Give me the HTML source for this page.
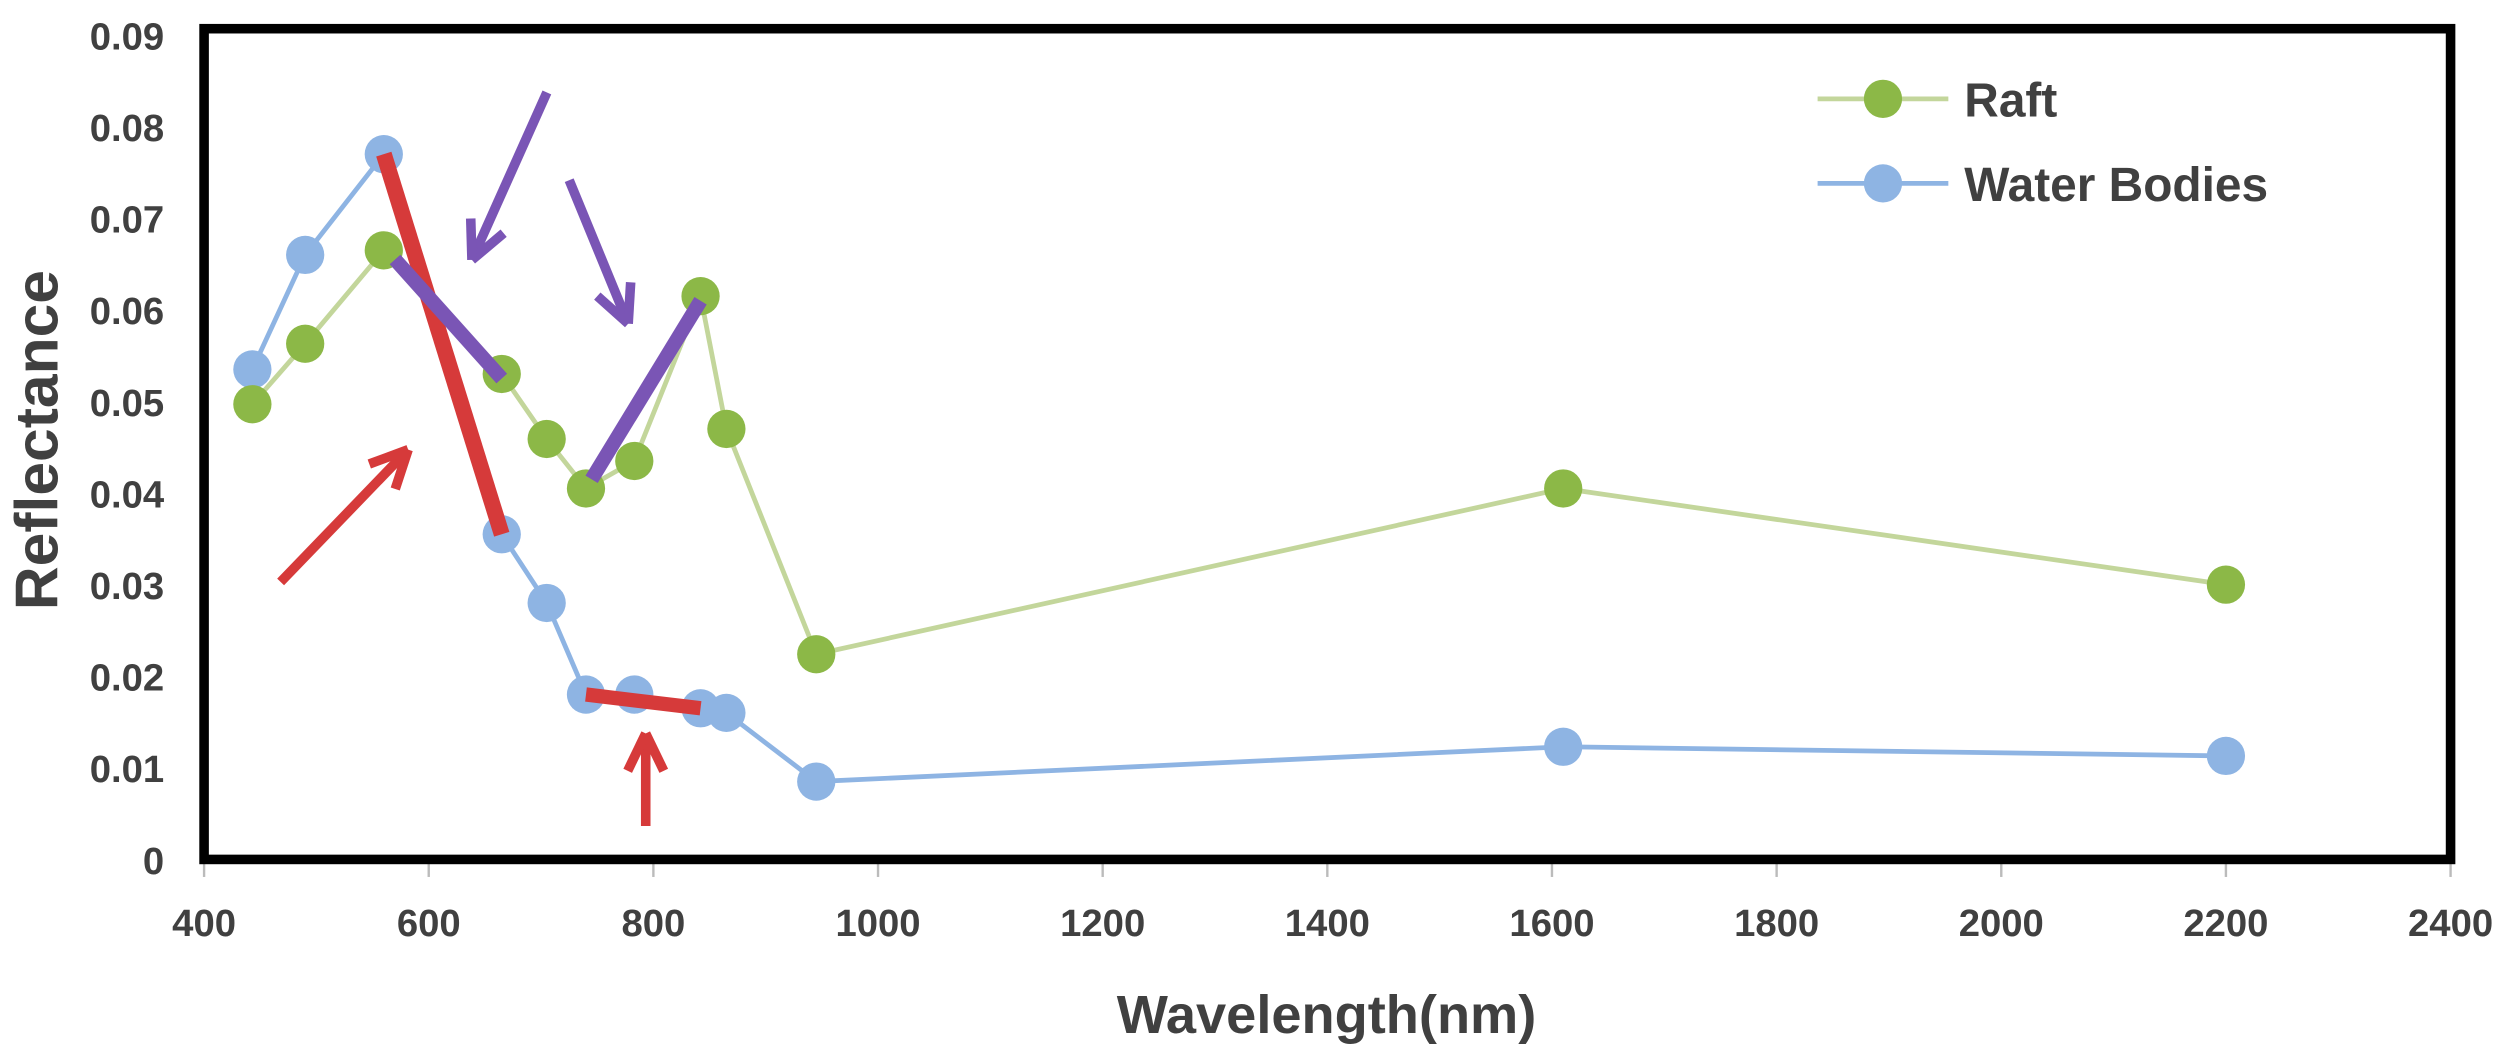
<!DOCTYPE html>
<html><head><meta charset="utf-8"><style>
html,body{margin:0;padding:0;background:#fff;}
svg{display:block;}
text{font-family:"Liberation Sans",sans-serif;fill:#404040;font-weight:bold;}
</style></head><body>
<svg id="chart" width="2500" height="1064" viewBox="0 0 1568 667.3" preserveAspectRatio="none" xmlns="http://www.w3.org/2000/svg">
<g id="g-axes"></g>
<g id="g-series"></g>
<g id="g-annot"></g>
<rect x="128" y="18" width="1409" height="521" fill="none" stroke="#000" stroke-width="6"/>
<text x="832" y="648" font-size="34" text-anchor="middle">Wavelength(nm)</text>
<text transform="translate(36,276) rotate(-90)" font-size="38" text-anchor="middle">Reflectance</text>
<g>
<g>
<line x1="1140" y1="62" x2="1222" y2="62" stroke="#c3d69b" stroke-width="3"/>
<circle cx="1181" cy="62" r="12" fill="#8cb847"/>
<text x="1232" y="73" font-size="30">Raft</text></g>
<g>
<line x1="1140" y1="115" x2="1222" y2="115" stroke="#8eb4e3" stroke-width="3"/>
<circle cx="1181" cy="115" r="12" fill="#8eb4e3"/>
<text x="1232" y="126" font-size="30">Water Bodies</text></g>
</g>
</svg>
<script>
const wavelengths = [443, 490, 560, 665, 705, 740, 783, 842, 865, 945, 1610, 2200];
const raftValues = [0.0497, 0.0563, 0.0665, 0.053, 0.0459, 0.0405, 0.0435, 0.0615, 0.047, 0.0224, 0.0405, 0.030];
const waterValues = [0.0535, 0.066, 0.077, 0.0355, 0.028, 0.018, 0.018, 0.0165, 0.016, 0.0085, 0.0123, 0.0113];
const xTicks = [400, 600, 800, 1000, 1200, 1400, 1600, 1800, 2000, 2200, 2400];
const yTicks = [0, 0.01, 0.02, 0.03, 0.04, 0.05, 0.06, 0.07, 0.08, 0.09];
const yTickLabels = ["0", "0.01", "0.02", "0.03", "0.04", "0.05", "0.06", "0.07", "0.08", "0.09"];

const NS = "http://www.w3.org/2000/svg";
function xs(v){ return 128 + (v - 400) / 2000 * 1409; }
function ys(v){ return 539 - v / 0.09 * 517; }
function mk(tag, attrs, parent){ const e = document.createElementNS(NS, tag); for (const k in attrs) e.setAttribute(k, attrs[k]); parent.appendChild(e); return e; }

const axes = document.getElementById('g-axes');
xTicks.forEach(t => {
  const l = mk('line', {x1: xs(t), x2: xs(t), y1: 539, y2: 550, stroke: '#bbb', 'stroke-width': 1.5}, axes);
  
  
  const tx = mk('text', {x: xs(t), y: 587, 'font-size': 24, 'text-anchor': 'middle'}, axes);
  tx.textContent = t;
  
  
});
yTicks.forEach((t, i) => {
  const tx = mk('text', {x: 103, y: ys(t) + 9, 'font-size': 24, 'text-anchor': 'end'}, axes);
  tx.textContent = yTickLabels[i];
  
  
});

const ser = document.getElementById('g-series');
function drawSeries(vals, lineColor, dotColor, name){
  const pts = wavelengths.map((w, i) => xs(w) + ',' + ys(vals[i])).join(' ');
  const pl = mk('polyline', {points: pts, fill: 'none', stroke: lineColor, 'stroke-width': 3}, ser);
  
  
  wavelengths.forEach((w, i) => {
    const c = mk('circle', {cx: xs(w), cy: ys(vals[i]), r: 12, fill: dotColor}, ser);
    
    
  });
}
drawSeries(waterValues, '#8eb4e3', '#8eb4e3', 'water-bodies');
drawSeries(raftValues, '#c3d69b', '#8cb847', 'raft');

const an = document.getElementById('g-annot');
function seg(x1, y1, x2, y2, color, w, name){
  const l = mk('line', {x1, y1, x2, y2, stroke: color, 'stroke-width': w, 'stroke-linecap': 'butt'}, an);
  
  
}
function arrow(x1, y1, x2, y2, color, name){
  seg(x1, y1, x2, y2, color, 6, name);
  const a = Math.atan2(y2 - y1, x2 - x1), L = 26;
  [0.45, -0.45].forEach(d => {
    seg(x2, y2, x2 - L * Math.cos(a + d), y2 - L * Math.sin(a + d), color, 6, name + '-head');
  });
}
const red = '#d63a3a', purple = '#7a55b5';
seg(xs(560), ys(0.077), xs(665), ys(0.0355), red, 10, 'red-trend-line-visible');
seg(xs(570), ys(0.0655), xs(665), ys(0.0525), purple, 9, 'purple-trend-line-red-edge');
seg(xs(745), ys(0.0415), xs(842), ys(0.061), purple, 9, 'purple-trend-line-nir');
seg(xs(740), ys(0.018), xs(842), ys(0.0165), red, 9, 'red-trend-line-nir');
arrow(343, 58, 296, 163, purple, 'purple-arrow-1');
arrow(357, 113, 394, 203, purple, 'purple-arrow-2');
arrow(176, 365, 256, 282, red, 'red-arrow-1');
arrow(405, 518, 405, 460, red, 'red-arrow-2');
</script>
</body></html>
